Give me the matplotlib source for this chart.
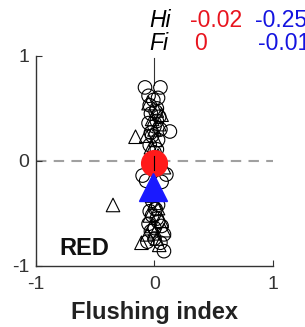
import matplotlib
matplotlib.use("Agg")
import matplotlib.pyplot as plt

plt.rcParams['font.family'] = ['Liberation Sans', 'DejaVu Sans']

# open circles (individual cells)
circ_x = [-0.08, 0.05, -0.05, 0.03, -0.04, 0.02, -0.03, 0.04, -0.05, 0.0, 0.13, 0.05,
          -0.02, 0.03, -0.04, 0.02, 0.0, -0.01, 0.02, -0.03, 0.01,
          -0.10, -0.07, 0.10, 0.06,
          -0.02, 0.03, -0.04, 0.02, -0.05, 0.06, -0.03, 0.08, 0.0, -0.06, 0.05, 0.08,
          0.01, -0.02, 0.03, 0.0]
circ_y = [0.70, 0.70, 0.62, 0.60, 0.53, 0.50, 0.45, 0.42, 0.36, 0.33, 0.28, 0.30,
          0.24, 0.20, 0.15, 0.11, 0.08, 0.58, 0.38, 0.27, 0.47,
          -0.14, -0.19, -0.13, -0.20,
          -0.38, -0.42, -0.48, -0.55, -0.60, -0.62, -0.67, -0.70, -0.74, -0.77, -0.78, -0.86,
          -0.46, -0.52, -0.58, -0.64]
# open triangles
tri_x = [-0.05, 0.02, -0.02, 0.04, -0.16, -0.07, 0.01, -0.03, 0.03, 0.0, 0.06,
         -0.35, 0.08,
         -0.02, 0.0, 0.03, -0.04, 0.06, -0.02, 0.08, -0.06, 0.02, -0.11, 0.04, 0.0]
tri_y = [0.55, 0.48, 0.40, 0.35, 0.23, 0.24, 0.20, 0.13, 0.05, 0.30, 0.44,
         -0.42, -0.06,
         -0.33, -0.40, -0.45, -0.52, -0.57, -0.62, -0.66, -0.70, -0.74, -0.78, -0.80, -0.69]
# means: (Fi, Hi)
red_mean = (0.0, -0.02)
blue_mean = (-0.01, -0.25)

fig = plt.figure(figsize=(3.05, 3.27), dpi=100)
ax = fig.add_axes([0.118, 0.187, 0.777, 0.642])

ax.plot([-1, 1], [0, 0], ls=(0, (5, 3.5)), color='#a0a0a0', lw=1.5, zorder=1)
ax.plot([0, 0], [0.72, 0.98], color='#333333', lw=0.8, zorder=2)

ax.scatter(circ_x, circ_y, s=95, facecolors='none', edgecolors='black', linewidths=0.8, zorder=3)
ax.scatter(tri_x, tri_y, s=95, marker='^', facecolors='none', edgecolors='black', linewidths=0.8, zorder=3)

ax.plot(red_mean[0], red_mean[1], 'o', color='#ff1a1a', markersize=18.5, zorder=5)
ax.plot([0, 0], [-0.09, 0.05], color='black', lw=0.8, zorder=6)
ax.plot(blue_mean[0], blue_mean[1], '^', color='#1a1aff', markersize=19.5, zorder=6)

ax.set_xlim(-1, 1)
ax.set_ylim(-1, 1)
ax.set_xticks([-1, 0, 1])
ax.set_yticks([-1, 0, 1])
ax.set_xticklabels(['-1', '0', '1'])
ax.set_yticklabels(['-1', '0', '1'])
for s in ['top', 'right']:
    ax.spines[s].set_visible(False)
for s in ['left', 'bottom']:
    ax.spines[s].set_color('#333333')
    ax.spines[s].set_linewidth(1.0)
ax.tick_params(direction='in', length=4, colors='#333333', labelsize=14, pad=5)
ax.tick_params(axis='x', pad=7)
ax.set_xlabel('Flushing index', fontsize=17, fontweight='bold', color='#222222', labelpad=6)

ax.text(-0.80, -0.90, 'RED', fontsize=17, fontweight='bold', color='#111111')

fig.text(0.49, 0.937, 'Hi', fontsize=16.5, style='italic', ha='left', va='center')
fig.text(0.623, 0.937, '-0.02', fontsize=16.5, color='#e8141e', ha='left', va='center')
fig.text(0.835, 0.937, '-0.25', fontsize=16.5, color='#1414e0', ha='left', va='center')
fig.text(0.49, 0.866, 'Fi', fontsize=16.5, style='italic', ha='left', va='center')
fig.text(0.638, 0.866, '0', fontsize=16.5, color='#e8141e', ha='left', va='center')
fig.text(0.845, 0.866, '-0.01', fontsize=16.5, color='#1414e0', ha='left', va='center')

fig.savefig('out.png', dpi=100)
